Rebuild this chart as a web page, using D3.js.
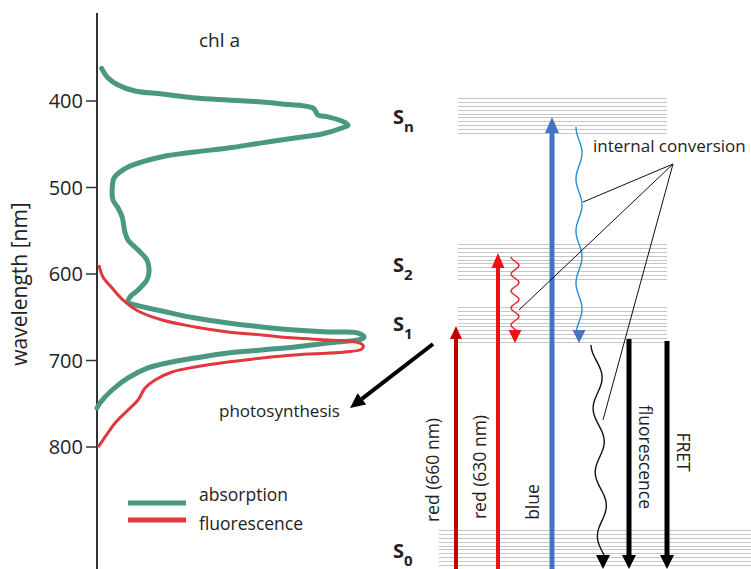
<!DOCTYPE html>
<html><head><meta charset="utf-8">
<script src="https://cdn.jsdelivr.net/npm/d3@7"></script>
<style>
html,body{margin:0;padding:0;background:#fff;}
svg{display:block;}
text{font-family:"Open Sans",sans-serif;fill:#222;}
</style></head>
<body>
<svg id="c" width="751" height="569"></svg>
<script>
// ---------- data ----------
const absWavelength = [362.8,374,382,389,392.5,397,399.4,401.7,404,408.7,416.8,419,423.7,428.3,431.8,438.7,443.4,449,455,459.5,465,471,476.9,482.7,489.6,503.5,515,524.3,534.7,553,561.3,572.8,584.4,596,607.5,619,627.2,633,636.4,643.4,651.5,657.2,661.8,665.3,667.6,668.8,673.4,675.7,680.3,684.9,688.4,691.9,697.7,702.3,709.2,720.8,734.7,749.7,755.5];
const absValue      = [0.017,0.041,0.078,0.141,0.241,0.363,0.485,0.611,0.685,0.8,0.819,0.856,0.907,0.93,0.907,0.833,0.733,0.611,0.485,0.363,0.241,0.167,0.115,0.085,0.063,0.056,0.059,0.078,0.093,0.104,0.115,0.152,0.185,0.193,0.185,0.152,0.122,0.115,0.141,0.241,0.363,0.485,0.611,0.733,0.856,0.967,0.989,0.981,0.856,0.733,0.611,0.485,0.363,0.278,0.189,0.115,0.056,0.011,0];
const flWavelength  = [590.2,604,616.8,630.6,643.4,653.8,661.8,667.6,671.1,674.6,676.9,679.2,682.7,687.3,690.8,694.2,697.7,702.3,708,713.9,723.1,732.4,746.2,757.8,772.8,789,800.6];
const flValue       = [0.007,0.022,0.056,0.096,0.152,0.241,0.363,0.485,0.611,0.733,0.856,0.956,0.985,0.981,0.919,0.733,0.611,0.485,0.363,0.278,0.215,0.178,0.152,0.115,0.067,0.03,0.004];
const yTicks = [400,500,600,700,800];
const seriesNames = ["absorption","fluorescence"];

// Jablonski energy levels (arbitrary units)
const levelSub    = ["0","1","2","n"];
const levelEnergy = [0,223,286,432];
const sublevelStep = 3.9;
const sublevelCount = 10;

// transitions (energy from -> to)
const excLabels = ["red (660 nm)","red (630 nm)","blue"];
const excTo     = [239,312,448];
const icFrom    = [308,438];   // red wavy, blue wavy
const icTo      = [222,222];
const emitLabels = ["","fluorescence","FRET"]; // non-radiative wavy, fluorescence, FRET
const emitFrom  = [220,226,224];
const emitTo    = [-4,-4,-4];

// ---------- layout ----------
const svg = d3.select("#c");
const y = d3.scaleLinear().domain([400,800]).range([100.5,446.5]);
const x = d3.scaleLinear().domain([0,1]).range([97,367]);
const E = d3.scaleLinear().domain([0,470]).range([565,95]);
const colGreen = "#4a9882", colRed = "#e0383c";

// energy levels (drawn first, behind arrows)
levelEnergy.forEach((e0,li)=>{
  const x1 = li===0 ? 439 : 458, x2 = li===0 ? 751 : 667;
  for(let k=0;k<sublevelCount;k++){
    const yy = Math.round(E(e0 + k*sublevelStep)) + 0.5;
    svg.append("line").attr("x1",x1).attr("x2",x2).attr("y1",yy).attr("y2",yy)
      .attr("stroke","#c6c6c6").attr("stroke-width",1);
  }
});

// axis
svg.append("line").attr("x1",97).attr("x2",97).attr("y1",13).attr("y2",569)
  .attr("stroke","#333").attr("stroke-width",2);
const ax = svg.append("g").attr("transform","translate(97,0)")
  .call(d3.axisLeft(y).tickValues(yTicks).tickSize(11).tickPadding(3));
ax.select(".domain").remove();
ax.selectAll(".tick line").attr("stroke","#333").attr("stroke-width",1.5);
ax.selectAll(".tick text").attr("font-family","'Liberation Sans',Arial,sans-serif")
  .attr("font-size",20).attr("fill","#333").attr("dy","0.36em");

svg.append("text").attr("transform","translate(27,284) rotate(-90)")
  .attr("text-anchor","middle").attr("font-size",21).text("wavelength [nm]");
svg.append("text").attr("x",199).attr("y",47).attr("font-size",19).text("chl a");

// curves
const line = d3.line().x(d=>x(d[1])).y(d=>y(d[0])).curve(d3.curveCatmullRom.alpha(0.5));
svg.append("path").datum(absWavelength.map((w,i)=>[w,absValue[i]]))
  .attr("d",line).attr("fill","none").attr("stroke",colGreen).attr("stroke-width",5)
  .attr("stroke-linejoin","round").attr("stroke-linecap","round");
svg.append("path").datum(flWavelength.map((w,i)=>[w,flValue[i]]))
  .attr("d",line).attr("fill","none").attr("stroke",colRed).attr("stroke-width",3)
  .attr("stroke-linejoin","round");

// legend
const lg = svg.append("g");
[colGreen,colRed].forEach((c,i)=>{
  lg.append("line").attr("x1",128).attr("x2",186).attr("y1",503+i*17).attr("y2",503+i*17)
    .attr("stroke",c).attr("stroke-width",5);
  lg.append("text").attr("x",199).attr("y",501+i*28.5).attr("font-size",17.5).text(seriesNames[i]);
});

const labelBase = [558,331,272,123.5];
levelSub.forEach((s,i)=>{
  const t = svg.append("text").attr("x",393).attr("y",labelBase[i]).attr("font-size",20).attr("font-weight","bold").attr("fill","#111");
  t.append("tspan").text("S");
  t.append("tspan").attr("dy",8).attr("font-size",15).text(s);
});

// arrow helper (vertical)
function vArrow(xc,yFrom,yTo,color,shaft,headW,headL){
  const dir = yTo<yFrom ? -1 : 1;
  const yBase = yTo - dir*headL;
  svg.append("line").attr("x1",xc).attr("x2",xc).attr("y1",yFrom).attr("y2",yBase)
    .attr("stroke",color).attr("stroke-width",shaft);
  svg.append("path").attr("d",`M${xc-headW/2},${yBase}L${xc+headW/2},${yBase}L${xc},${yTo}Z`).attr("fill",color);
}
function wave(xa,ya,xb,yb,amp,period,phase){
  const pts=[]; const L=Math.hypot(xb-xa,yb-ya); const n=Math.ceil(L);
  for(let i=0;i<=n;i++){
    const t=i/n; const s=t*L;
    pts.push([xa+(xb-xa)*t + amp*Math.sin(2*Math.PI*s/period+phase), ya+(yb-ya)*t]);
  }
  return d3.line().curve(d3.curveBasis)(pts);
}

// excitation arrows
const excX = [456,498,552], excCol = ["#c00000","#ee1111","#4472c4"];
const excShaft=[4,4,5], excHW=[12,13,14], excHL=[13,15,16];
excTo.forEach((e,i)=>vArrow(excX[i],569,E(e),excCol[i],excShaft[i],excHW[i],excHL[i]));
const excLabelX=[433,480,533], excLabelY=[470,467,502];
excLabels.forEach((t,i)=>svg.append("text").attr("transform",`translate(${excLabelX[i]+6},${excLabelY[i]}) rotate(-90)`)
  .attr("text-anchor","middle").attr("font-size",17.5).text(t));

// internal conversion (wavy)
const icX=[515,579], icCol=["#e02020","#2a8fd0"], icHead=["#ee1111","#4472c4"], icAmp=[4,3], icPer=[17,52];
icFrom.forEach((e,i)=>{
  const y0=E(e), y1=E(icTo[i]);
  svg.append("path").attr("d",wave(icX[i],y0,icX[i],y1-12,icAmp[i],icPer[i],-Math.PI/2))
    .attr("fill","none").attr("stroke",icCol[i]).attr("stroke-width",1.4);
  svg.append("path").attr("d",`M${icX[i]-6.5},${y1-13}L${icX[i]+6.5},${y1-13}L${icX[i]},${y1}Z`).attr("fill",icHead[i]);
});

// emission / decay
const emX=[600,629,667];
emitFrom.forEach((e,i)=>{
  if(i===0){
    svg.append("path").attr("d",wave(596,E(e),603,555,5,64,-Math.PI/2))
      .attr("fill","none").attr("stroke","#111").attr("stroke-width",1.4);
    svg.append("path").attr("d",`M${596},${555}L${610},${555}L${603},${569}Z`).attr("fill","#000");
  } else {
    vArrow(emX[i],E(e),569,"#000",5,14,14);
  }
});
const emLabelX=[0,645,683], emLabelY=[0,457,452];
emitLabels.forEach((t,i)=>{ if(!t) return;
  svg.append("text").attr("transform",`translate(${emLabelX[i]-6},${emLabelY[i]}) rotate(90)`)
    .attr("text-anchor","middle").attr("font-size",17.5).text(t);
});

// internal conversion callout
svg.append("text").attr("x",593).attr("y",152).attr("font-size",17).text("internal conversion");
[[583,202],[519,310],[603,420]].forEach(p=>svg.append("line").attr("x1",673).attr("y1",164)
  .attr("x2",p[0]).attr("y2",p[1]).attr("stroke","#111").attr("stroke-width",1));

// photosynthesis arrow
(function(){
  const x0=433,y0=344,x1=350,y1=408, hl=15, hw=14;
  const a=Math.atan2(y1-y0,x1-x0), bx=x1-hl*Math.cos(a), by=y1-hl*Math.sin(a);
  svg.append("line").attr("x1",x0).attr("y1",y0).attr("x2",bx).attr("y2",by).attr("stroke","#000").attr("stroke-width",4);
  const px=-Math.sin(a)*hw/2, py=Math.cos(a)*hw/2;
  svg.append("path").attr("d",`M${bx+px},${by+py}L${bx-px},${by-py}L${x1},${y1}Z`).attr("fill","#000");
  svg.append("text").attr("x",219).attr("y",417).attr("font-size",17).text("photosynthesis");
})();
</script>
</body></html>
